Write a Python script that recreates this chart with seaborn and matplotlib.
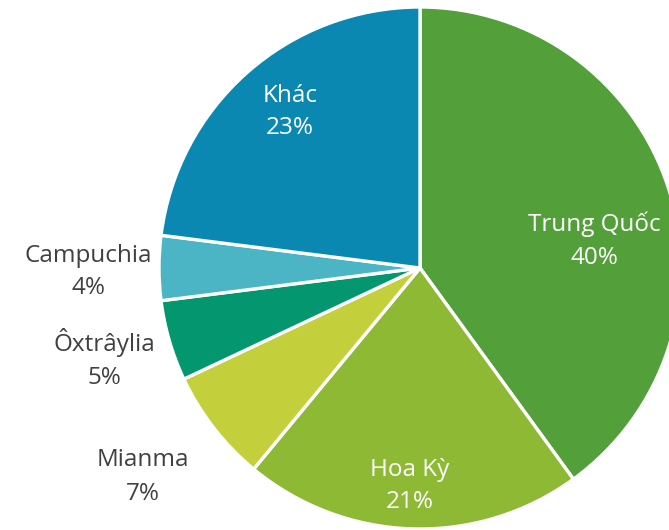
import matplotlib
matplotlib.use("Agg")
import matplotlib.pyplot as plt
import seaborn as sns

# data
countries = ["Trung Quốc", "Hoa Kỳ", "Mianma", "Ôxtrâylia", "Campuchia", "Khác"]
shares = [40, 21, 7, 5, 4, 23]
colors = ["#539f3a", "#8db935", "#c3d03c", "#03966f", "#4bb5c6", "#0b88b2"]

# label placement (pixel coords, origin bottom-left) and text colour
label_pos = [(594, 289), (410, 44), (143, 53), (104, 171), (88, 258), (290, 418)]
label_col = ["white", "white", "#404040", "#404040", "#404040", "white"]

sns.set_theme(style="white")
plt.rcParams["font.family"] = ["Open Sans", "DejaVu Sans"]

W, H = 669, 530
fig = plt.figure(figsize=(W / 100, H / 100), dpi=100)
ax = fig.add_axes([0, 0, 1, 1])
ax.set_xlim(0, W)
ax.set_ylim(0, H)
ax.set_aspect("equal")
ax.axis("off")

ax.pie(shares, colors=colors, startangle=90, counterclock=False,
       center=(420, 262), radius=261,
       wedgeprops=dict(edgecolor="white", linewidth=2.4))
ax.set_xlim(0, W)
ax.set_ylim(0, H)

for name, val, (x, y), c in zip(countries, shares, label_pos, label_col):
    ax.text(x, y, f"{name}\n{val}%", ha="center", va="center",
            fontsize=17.5, color=c, linespacing=1.5)

fig.savefig("out.png", dpi=100)
